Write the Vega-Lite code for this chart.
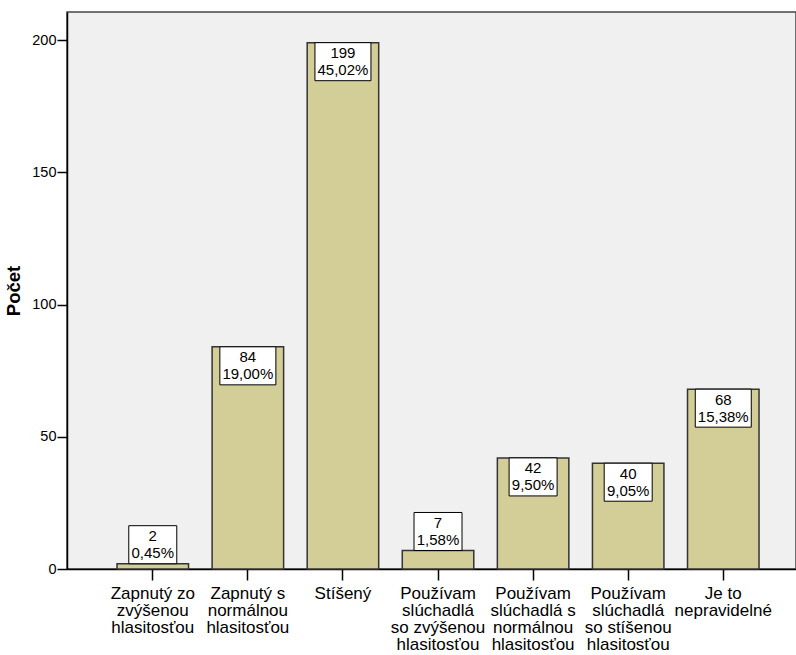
{
  "$schema": "https://vega.github.io/schema/vega-lite/v6.json",
  "autosize": "none",
  "padding": {"left": 67, "top": 12, "right": 0, "bottom": 86},
  "width": 729,
  "height": 557,
  "background": "white",
  "config": {
    "font": "Liberation Sans",
    "view": {"fill": "#f0f0f0", "stroke": "#444444", "strokeWidth": 1.5},
    "axis": {"grid": false, "domainColor": "#000000", "tickColor": "#000000", "labelColor": "#000000", "titleColor": "#000000"}
  },
  "data": {
    "values": [
      {"cat": "Zapnutý zo\nzvýšenou\nhlasitosťou", "value": 2, "pct": "0,45%"},
      {"cat": "Zapnutý s\nnormálnou\nhlasitosťou", "value": 84, "pct": "19,00%"},
      {"cat": "Stíšený", "value": 199, "pct": "45,02%"},
      {"cat": "Používam\nslúchadlá\nso zvýšenou\nhlasitosťou", "value": 7, "pct": "1,58%"},
      {"cat": "Používam\nslúchadlá s\nnormálnou\nhlasitosťou", "value": 42, "pct": "9,50%"},
      {"cat": "Používam\nslúchadlá\nso stíšenou\nhlasitosťou", "value": 40, "pct": "9,05%"},
      {"cat": "Je to\nnepravidelné", "value": 68, "pct": "15,38%"}
    ]
  },
  "encoding": {
    "x": {
      "field": "cat", "type": "nominal", "sort": null,
      "scale": {"paddingInner": 0.248, "paddingOuter": 0.4575, "align": 0.575},
      "axis": {
        "title": null, "labelAngle": 0, "labelFontSize": 17, "labelLineHeight": 17.2,
        "labelBaseline": "top", "labelPadding": 5, "labelExpr": "split(datum.label, '\\n')",
        "tickSize": 11, "tickWidth": 1.5, "domainWidth": 1.5, "labelLimit": 200
      }
    },
    "y": {
      "field": "value", "type": "quantitative",
      "scale": {"domain": [0, 210.6], "nice": false, "zero": true},
      "axis": {
        "title": "Počet", "titleFontSize": 18.5, "titleFontWeight": "bold", "titlePadding": 8,
        "values": [0, 50, 100, 150, 200], "labelFontSize": 14.5, "labelPadding": 1,
        "tickSize": 10, "tickWidth": 1.5, "domainWidth": 1.5
      }
    }
  },
  "layer": [
    {
      "mark": {"type": "bar", "fill": "#d3ce97", "stroke": "#333333", "strokeWidth": 1.5}
    },
    {
      "transform": [{"filter": "datum.value >= 15 && length(datum.pct) > 5"}],
      "mark": {"type": "point", "filled": false, "fill": "white", "fillOpacity": 1, "stroke": "#000000", "strokeWidth": 1, "opacity": 1,
        "shape": "M-1,-0.679L1,-0.679L1,0.679L-1,0.679Z", "size": 3136, "yOffset": 19}
    },
    {
      "transform": [{"filter": "datum.value >= 15 && length(datum.pct) <= 5"}],
      "mark": {"type": "point", "filled": false, "fill": "white", "fillOpacity": 1, "stroke": "#000000", "strokeWidth": 1, "opacity": 1,
        "shape": "M-1,-0.792L1,-0.792L1,0.792L-1,0.792Z", "size": 2304, "yOffset": 19}
    },
    {
      "transform": [{"filter": "datum.value < 15"}],
      "mark": {"type": "point", "filled": false, "fill": "white", "fillOpacity": 1, "stroke": "#000000", "strokeWidth": 1, "opacity": 1,
        "shape": "M-1,-0.792L1,-0.792L1,0.792L-1,0.792Z", "size": 2304, "yOffset": -19}
    },
    {
      "transform": [{"filter": "datum.value >= 15"}],
      "mark": {"type": "text", "fontSize": 15, "color": "#000000", "baseline": "middle", "yOffset": 10.5},
      "encoding": {"text": {"field": "value", "type": "quantitative"}}
    },
    {
      "transform": [{"filter": "datum.value >= 15"}],
      "mark": {"type": "text", "fontSize": 15, "color": "#000000", "baseline": "middle", "yOffset": 27.5},
      "encoding": {"text": {"field": "pct", "type": "nominal"}}
    },
    {
      "transform": [{"filter": "datum.value < 15"}],
      "mark": {"type": "text", "fontSize": 15, "color": "#000000", "baseline": "middle", "yOffset": -27.5},
      "encoding": {"text": {"field": "value", "type": "quantitative"}}
    },
    {
      "transform": [{"filter": "datum.value < 15"}],
      "mark": {"type": "text", "fontSize": 15, "color": "#000000", "baseline": "middle", "yOffset": -10.5},
      "encoding": {"text": {"field": "pct", "type": "nominal"}}
    }
  ]
}
